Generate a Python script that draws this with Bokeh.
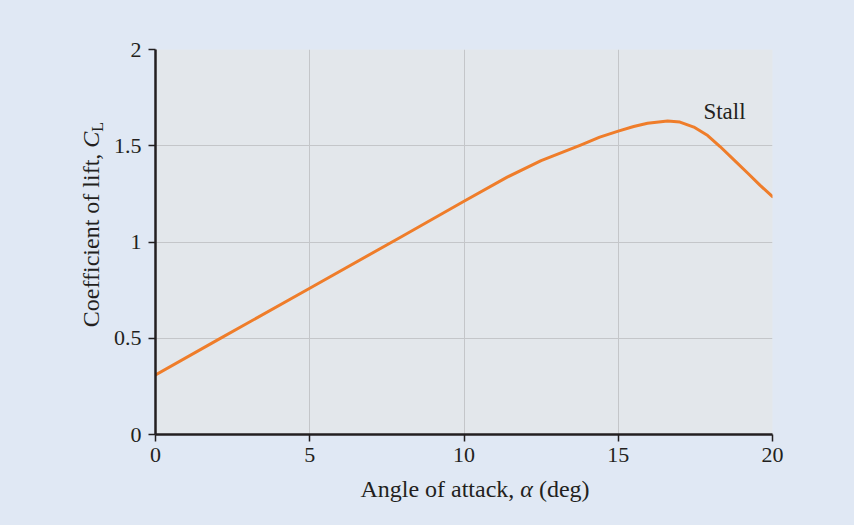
from bokeh.plotting import figure
from bokeh.models import Range1d, FixedTicker, Label, Div
from bokeh.layouts import row, column
from bokeh.embed import file_html
from bokeh.resources import INLINE

# ---- data ----
alpha_deg = [0, 2, 5, 8, 10, 11.4, 12.5, 13.8, 14.4, 15.0, 15.5, 15.95, 16.6, 17.0,
             17.45, 17.9, 18.3, 18.75, 19.2, 19.6, 20]
cl_values = [0.31, 0.49, 0.76, 1.03, 1.212, 1.337, 1.423, 1.505, 1.545, 1.576, 1.60, 1.617,
             1.628, 1.623, 1.597, 1.553, 1.496, 1.427, 1.357, 1.294, 1.236]
x_ticks = [0, 5, 10, 15, 20]
y_ticks = [0, 0.5, 1, 1.5, 2]
y_tick_labels = ["0", "0.5", "1", "1.5", "2"]
annotation_text = "Stall"
x_label_html = "Angle of attack, <i>\u03b1</i> (deg)"
y_label_html = "Coefficient of lift, <i>C</i><span style=\"font-size:16px;vertical-align:-4px\">L</span>"

FONT = "Liberation Serif"
TXT = "#231f20"
OUTER = "#e0e8f4"
INNER = "#e3e7eb"
GRID = "#c4c6c9"
ORANGE = "#ef7d2a"

p = figure(frame_width=617, frame_height=385,
           min_border_left=45, min_border_right=82,
           min_border_top=49, min_border_bottom=40,
           x_range=Range1d(0, 20), y_range=Range1d(0, 2),
           output_backend="svg", toolbar_location=None)

p.background_fill_color = INNER
p.border_fill_color = OUTER
p.outline_line_color = None

for g in (p.xgrid[0], p.ygrid[0]):
    g.grid_line_color = GRID
    g.grid_line_width = 1

p.xaxis.ticker = FixedTicker(ticks=x_ticks)
p.yaxis.ticker = FixedTicker(ticks=y_ticks)
p.yaxis.major_label_overrides = {t: s for t, s in zip(y_ticks, y_tick_labels)}
p.xaxis.major_label_overrides = {t: str(t) for t in x_ticks}

for ax in (p.xaxis[0], p.yaxis[0]):
    ax.axis_line_color = TXT
    ax.axis_line_width = 2.5
    ax.major_tick_line_color = TXT
    ax.major_tick_line_width = 1.5
    ax.major_tick_out = 7
    ax.major_tick_in = 0
    ax.minor_tick_line_color = None
    ax.major_label_text_font = FONT
    ax.major_label_text_font_size = "22px"
    ax.major_label_text_color = TXT
    ax.major_label_text_font_style = "normal"
p.xaxis.major_label_standoff = 6
p.yaxis.major_label_standoff = 7

p.line(alpha_deg, cl_values, line_color=ORANGE, line_width=3,
       line_join="round", line_cap="round")

p.add_layout(Label(x=17.76, y=1.678, text=annotation_text, text_font=FONT,
                   text_font_size="23px", text_color=TXT,
                   text_align="left", text_baseline="alphabetic"))

FONT_CSS = "font:24px/26px 'Liberation Serif';color:%s;white-space:nowrap;" % TXT

x_div = Div(
    text=('<div style="position:absolute;left:0;top:0;width:744px;height:51px;'
          'box-sizing:border-box;padding:2px 14px 0 0;text-align:center;%s">%s</div>'
          % (FONT_CSS, x_label_html)),
    width=744, height=51, margin=0)

y_div = Div(
    text=('<div style="position:absolute;left:0;top:0;width:525px;height:110px;'
          'box-sizing:border-box;padding:78px 0 0 76px;text-align:center;%s'
          'transform-origin:0 0;transform:translate(0,525px) rotate(-90deg)">%s</div>'
          % (FONT_CSS, y_label_html)),
    width=110, height=525, margin=0)

layout = row(y_div, column(p, x_div))

html = file_html(layout, INLINE)
html = html.replace("</head>",
                    "<style>html,body{overflow:hidden;background:%s !important;}</style></head>" % OUTER, 1)
open("out.html", "w").write(html)
